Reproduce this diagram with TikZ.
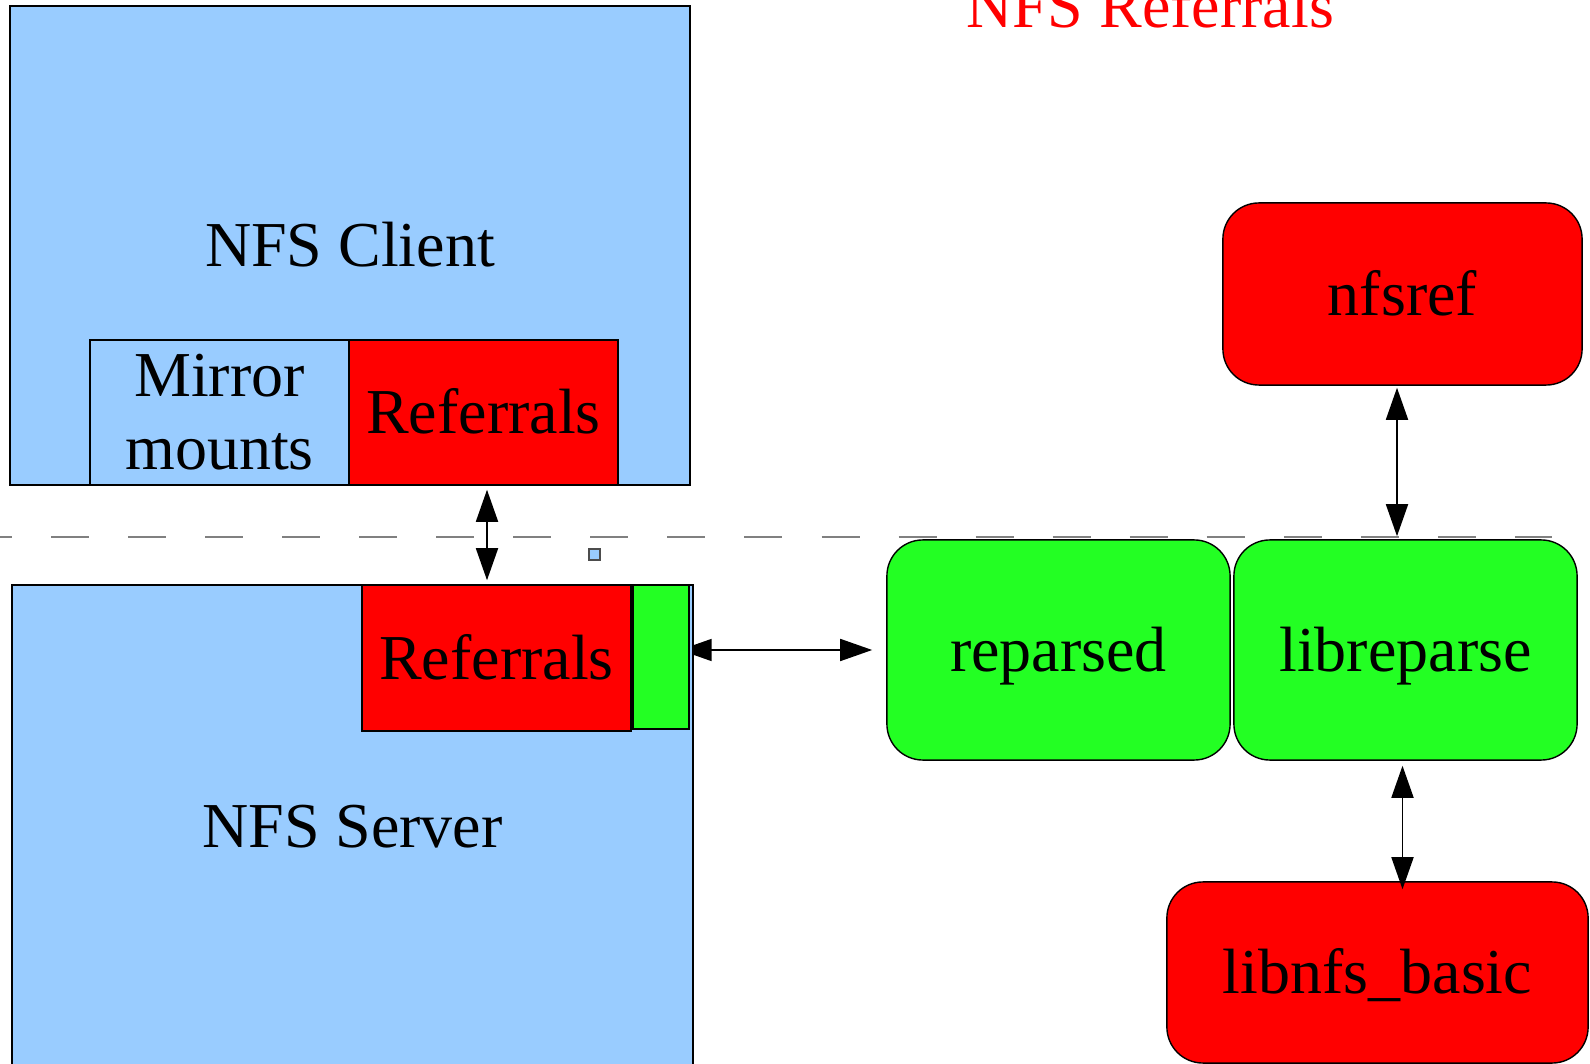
\documentclass[tikz,border=0pt]{standalone}
\usepackage{fontspec}
\setmainfont{Liberation Serif}
\usetikzlibrary{arrows.meta,backgrounds}

\definecolor{boxblue}{HTML}{99CCFF}
\definecolor{boxred}{HTML}{FF0000}
\definecolor{boxgreen}{HTML}{23FF23}

\tikzset{
	blk/.style={draw=black, line width=0.4pt, inner sep=0pt,
		font=\fontsize{18.2pt}{20.8pt}\selectfont, text height=12pt, text depth=0pt},
	rblk/.style={blk, rounded corners=0.36cm},
	dblarrow/.style={line width=0.5pt, >={Triangle[length=0.32cm,width=0.22cm]}, <->},
	sepline/.style={draw=gray, line width=0.6pt, dash pattern=on 0.38cm off 0.39cm}
}

\begin{document}
\begin{tikzpicture}[x=0.01cm,y=-0.01cm]
\useasboundingbox (0,0) rectangle (1590,1064);

% title
\node[red, anchor=base, font=\fontsize{18.2pt}{20.8pt}\selectfont] (title) at (1150,28) {NFS Referrals};

% client side
\node[blk, fill=boxblue, minimum width=6.8cm, minimum height=4.79cm] (client) at (350,245.5) {NFS Client};
\node[blk, fill=boxblue, minimum width=2.59cm, minimum height=1.45cm, align=center,
	text height=, text depth=] (mirror) at (219.5,412.5) {Mirror\\mounts};
\node[blk, fill=boxred, minimum width=2.69cm, minimum height=1.45cm] (cliref) at (483.5,412.5) {Referrals};

\draw[sepline] (-26,537) -- (1552,537);

% server side
\node[blk, fill=boxblue, minimum width=6.81cm, minimum height=4.83cm] (server) at (352.5,826.5) {NFS Server};
\node[blk, fill=boxred, minimum width=2.69cm, minimum height=1.46cm] (srvref) at (496.5,658) {Referrals};
\node[blk, fill=boxgreen, minimum width=0.56cm, minimum height=1.44cm] (srvgreen) at (661,657) {};
\node[draw=black!70, fill=boxblue, line width=0.4pt, minimum size=0.11cm, inner sep=0pt] (dot) at (594.5,554.5) {};

% daemon and libraries
\node[rblk, fill=boxgreen, minimum width=3.43cm, minimum height=2.2cm] (reparsed) at (1058.5,650) {reparsed};
\node[rblk, fill=boxgreen, minimum width=3.43cm, minimum height=2.2cm] (libreparse) at (1405.5,650) {libreparse};
\node[rblk, fill=boxred, minimum width=3.59cm, minimum height=1.82cm] (nfsref) at (1402.5,294) {nfsref};
\node[rblk, fill=boxred, minimum width=4.21cm, minimum height=1.81cm] (libnfs) at (1377.5,972.5) {libnfs\_basic};

\draw[dblarrow, shorten <=0.04cm, shorten >=0.04cm] ([xshift=0.035cm]cliref.south) -- ([xshift=0.035cm]cliref.south |- srvref.north);
\begin{scope}[on background layer]
\draw[dblarrow, shorten <=-0.1cm, shorten >=0.14cm] (srvgreen.east |- reparsed.west) -- (reparsed.west);
\end{scope}
\draw[dblarrow, shorten <=0.02cm, shorten >=0.03cm] ([xshift=-0.055cm]nfsref.south) -- ([xshift=-0.055cm]nfsref.south |- libreparse.north);
\draw[dblarrow, shorten <=0.05cm, shorten >=-0.08cm] ([xshift=-0.03cm]libreparse.south) -- ([xshift=-0.03cm]libreparse.south |- libnfs.north);
\end{tikzpicture}
\end{document}
